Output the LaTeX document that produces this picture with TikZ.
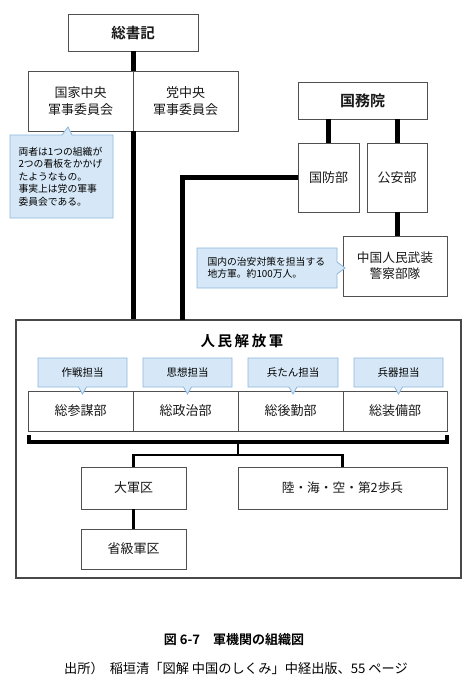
\documentclass[tikz,border=0pt]{standalone}
\usepackage{fontspec}
\setmainfont{Noto Sans CJK JP}[BoldFont={Noto Sans CJK JP Bold}]
\usetikzlibrary{shapes.callouts}
\definecolor{boxgray}{HTML}{505050}
\definecolor{callfill}{HTML}{D6E8F7}
\definecolor{calldraw}{HTML}{8DB6DD}
\tikzset{
  box/.style={draw=boxgray, line width=0.8pt, fill=white, inner sep=0pt, align=center, text=black!90},
  thick line/.style={line width=5pt, black},
  mid line/.style={line width=3.3pt, black},
  tree line/.style={line width=2.8pt, black},
  note/.style={rectangle callout, draw=calldraw, line width=0.8pt, fill=callfill, inner sep=0pt, align=left, font=\fontsize{9.8}{12.5}\selectfont},
  tag/.style={rectangle callout, draw=calldraw, line width=0.8pt, fill=callfill, inner sep=0pt, minimum width=89pt, minimum height=29pt, callout pointer width=8pt, font=\fontsize{10.5}{12}\selectfont},
}
\begin{document}
\begin{tikzpicture}[x=1pt,y=-1pt]
\useasboundingbox[fill=white] (0,0) rectangle (468,690);

% top
\node[box, minimum width=130pt, minimum height=37pt, font=\fontsize{14.5}{16}\selectfont\bfseries] (gs) at (133,32.5) {総書記};
\node[box, minimum width=105pt, minimum height=60pt, font=\fontsize{13}{16.5}\selectfont] (cmA) at (80.5,101) {国家中央\\軍事委員会};
\node[box, minimum width=105pt, minimum height=60pt, font=\fontsize{13}{16.5}\selectfont] (cmB) at (185.5,101) {党中央\\軍事委員会};

\node[box, minimum width=129pt, minimum height=37pt, font=\fontsize{15}{17}\selectfont\bfseries] (gwy) at (362.5,100.5) {国務院};
\node[box, minimum width=61pt, minimum height=69pt, font=\fontsize{13}{15}\selectfont] (gfb) at (328.5,177.5) {国防部};
\node[box, minimum width=60pt, minimum height=69pt, font=\fontsize{13}{15}\selectfont] (gab) at (397,177.5) {公安部};
\node[box, minimum width=104pt, minimum height=60pt, font=\fontsize{12.7}{16}\selectfont] (wj) at (395,266) {中国人民武装\\警察部隊};

% PLA
\node[box, draw=boxgray!90!black, line width=1.1pt, minimum width=445pt, minimum height=258pt] (pla) at (238.5,449) {};
\node[font=\fontsize{14.5}{16}\selectfont\bfseries, inner sep=0pt] (plat) at (242,341) {人\hspace{2.6pt}民\hspace{2.6pt}解\hspace{2.6pt}放\hspace{2.6pt}軍};

\node[box, minimum width=105pt, minimum height=40pt, font=\fontsize{13}{15}\selectfont] (zsm) at (80.5,411) {総参謀部};
\node[box, minimum width=105pt, minimum height=40pt, font=\fontsize{13}{15}\selectfont] (zzz) at (185.5,411) {総政治部};
\node[box, minimum width=105pt, minimum height=40pt, font=\fontsize{13}{15}\selectfont] (zhq) at (290.5,411) {総後勤部};
\node[box, minimum width=104pt, minimum height=40pt, font=\fontsize{13}{15}\selectfont] (zzb) at (395,411) {総装備部};

\node[tag, callout absolute pointer={(82.5,394)}] (t1) at (82.5,372.5) {作戦担当};
\node[tag, callout absolute pointer={(187.5,394)}] (t2) at (187.5,372.5) {思想担当};
\node[tag, callout absolute pointer={(293,394)}, minimum width=90pt] (t3) at (293,372.5) {兵たん担当};
\node[tag, callout absolute pointer={(398.5,394)}] (t4) at (398.5,372.5) {兵器担当};

\node[box, minimum width=105pt, minimum height=42pt, font=\fontsize{13}{15}\selectfont] (djq) at (133.5,488) {大軍区};
\node[box, minimum width=209pt, minimum height=42pt, font=\fontsize{12.7}{15}\selectfont] (lhk) at (342.5,488) {陸・海・空・第2歩兵};
\node[box, minimum width=105pt, minimum height=40pt, font=\fontsize{13}{15}\selectfont] (sjq) at (133.5,549) {省級軍区};

% notes
\node[note, minimum width=103pt, minimum height=83pt, text width=86pt, callout absolute pointer={(68,127)}, callout pointer width=10pt] (n1) at (61.5,176.5)
  {両者は1つの組織が\\2つの看板をかかげ\\たようなもの。\\事実上は党の軍事\\委員会である。};
\node[note, minimum width=140pt, minimum height=40pt, text width=119pt, callout absolute pointer={(345,268)}, callout pointer width=12pt] (n2) at (267,268)
  {国内の治安対策を担当する\\地方軍。約100万人。};

% connectors
\coordinate (plaL) at (182,320);
\coordinate (brL) at (29,435);
\coordinate (brR) at (447,435);
\coordinate (brM) at (238,442);
\coordinate (trM) at (238,455);

\draw[thick line] (gs.south) -- (gs.south |- cmA.north);
\draw[thick line] (cmA.south east) -- (cmA.south east |- pla.north);
\draw[thick line] (gfb.north |- gwy.south) -- (gfb.north);
\draw[thick line] (gab.north |- gwy.south) -- (gab.north);
\draw[thick line] (gfb.west) -| (plaL);
\draw[thick line] (gab.south) -- (gab.south |- wj.north);

\draw[mid line] (brL) |- (brM) -| (brR);
\draw[tree line] (brM) -- (trM);
\draw[tree line] (trM) -| (djq.north);
\draw[tree line] (trM) -| (lhk.north);
\draw[tree line] (djq.south) -- (sjq.north);

% caption
\node[font=\fontsize{13}{15}\selectfont\bfseries, inner sep=0pt] (cap) at (234,640) {図 6-7　軍機関の組織図};
\node[font=\fontsize{13.2}{15}\selectfont, inner sep=0pt] (src) at (236,668) {出所）\hspace{6pt}稲垣清「図解 中国のしくみ」中経出版、55 ページ};
\end{tikzpicture}
\end{document}
